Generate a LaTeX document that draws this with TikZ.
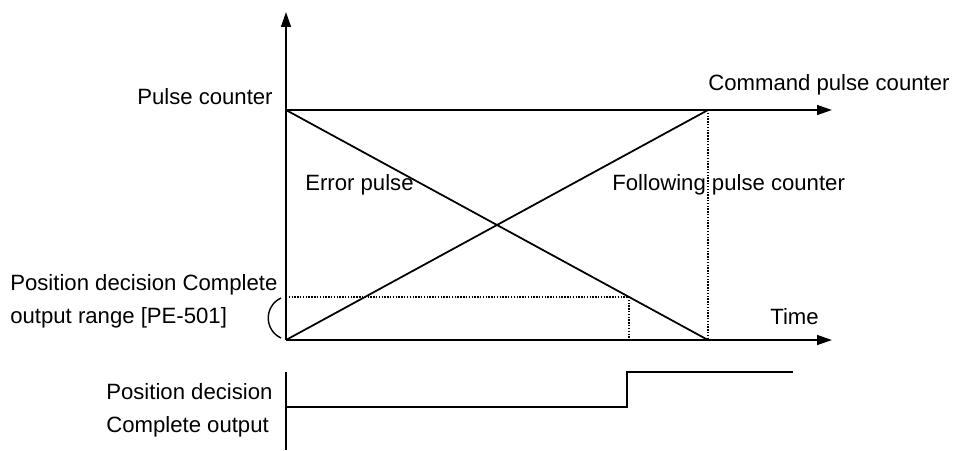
\documentclass[tikz,border=0pt]{standalone}
\usepackage{fontspec}
\setmainfont{Liberation Sans}
\usetikzlibrary{arrows.meta,positioning}
\begin{document}
\begin{tikzpicture}[
    x=0.02cm, y=-0.02cm,
    axis/.style={line width=1pt, -{Triangle[length=8.5pt, width=5.6pt]}},
    trace/.style={line width=1pt},
    guide/.style={line width=0.7pt, dash pattern=on 0.8pt off 0.8pt},
    lbl/.style={font=\fontsize{12.6}{18.7}\selectfont, inner sep=0pt}
    ]
    \useasboundingbox (0,0) rectangle (955,450);

    % Eckpunkte des Diagramms
    \coordinate (origin) at (286,340);
    \coordinate (ytip) at (286,12);
    \coordinate (tip) at (832,340);
    \coordinate (cmd) at (286,110);
    \coordinate (cmdtip) at (832,110);
    \coordinate (reach) at (708,110);
    \coordinate (stop) at (708,340);
    \coordinate (band) at (286,297);
    \coordinate (cross) at (629,297);
    \coordinate (crossfoot) at (629,340);

    % Achsen
    \draw[axis] (origin) -- (ytip);
    \draw[axis] (origin) -- (tip);
    \draw[axis] (cmd) -- (cmdtip);

    % Zaehler
    \draw[trace] (cmd) -- (stop);
    \draw[trace] (origin) -- (reach);
    \draw[guide] (reach) -- (stop);
    \draw[guide] (band) -- (cross) -- (crossfoot);

    % Klammer
    \draw[line width=0.8pt] (281,298) .. controls (264,306) and (264,330) .. (281,338);

    % Beschriftungen
    \node[lbl, anchor=east] (pulse) at (273,97) {Pulse counter};
    \node[lbl, anchor=west] (command) at (708,85) {Command pulse counter};
    \node[lbl, anchor=west] (error) at (305,185) {Error pulse};
    \node[lbl, anchor=west] (follow) at (612,185) {Following pulse counter};
    \node[lbl, anchor=west] (time) at (770,317) {Time};
    \node[lbl, anchor=north west, align=left] (range) at (10,274) {Position decision Complete\\output range [PE-501]};

    % Ausgangssignal
    \coordinate (outtop) at (286,372);
    \coordinate (outbot) at (286,450);
    \coordinate (low) at (286,407);
    \coordinate (rise) at (627,407);
    \coordinate (high) at (627,372);
    \coordinate (outend) at (793,372);
    \draw[trace] (outtop) -- (outbot);
    \draw[trace] (low) -- (rise) -- (high) -- (outend);
    \node[lbl, anchor=north west, align=left] (output) at (106,383) {Position decision\\Complete output};
\end{tikzpicture}
\end{document}
